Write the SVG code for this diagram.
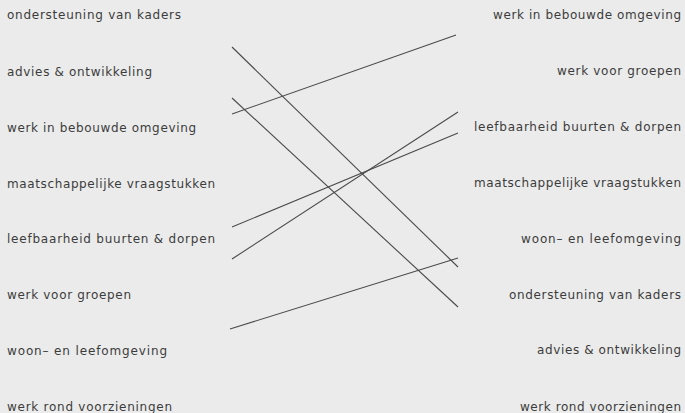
<svg xmlns="http://www.w3.org/2000/svg" width="685" height="413" viewBox="0 0 685 413">
<style>
.bg{fill:#ebebeb}
text{font-family:"DejaVu Sans","Liberation Sans",sans-serif;font-size:12px;fill:#3c3c3c}
.l{text-anchor:start}
.r{text-anchor:end}
#connectors line{stroke:#4a4a4a;stroke-width:1.1;fill:none}
</style>
<rect class="bg" x="0" y="0" width="685" height="413"/>
<g id="left">
<g id="l1"><text class="l" x="7" y="19" textLength="174" lengthAdjust="spacing">ondersteuning van kaders</text></g>
<g id="l2"><text class="l" x="7" y="76" textLength="145" lengthAdjust="spacing">advies &amp; ontwikkeling</text></g>
<g id="l3"><text class="l" x="7" y="132" textLength="189" lengthAdjust="spacing">werk in bebouwde omgeving</text></g>
<g id="l4"><text class="l" x="7" y="188" textLength="208" lengthAdjust="spacing">maatschappelijke vraagstukken</text></g>
<g id="l5"><text class="l" x="7" y="243" textLength="208" lengthAdjust="spacing">leefbaarheid buurten &amp; dorpen</text></g>
<g id="l6"><text class="l" x="7" y="299" textLength="124" lengthAdjust="spacing">werk voor groepen</text></g>
<g id="l7"><text class="l" x="7" y="355" textLength="160" lengthAdjust="spacing">woon– en leefomgeving</text></g>
<g id="l8"><text class="l" x="7" y="411" textLength="165" lengthAdjust="spacing">werk rond voorzieningen</text></g>
</g>
<g id="right">
<g id="r1"><text class="r" x="681" y="19" textLength="188" lengthAdjust="spacing">werk in bebouwde omgeving</text></g>
<g id="r2"><text class="r" x="681" y="75" textLength="124" lengthAdjust="spacing">werk voor groepen</text></g>
<g id="r3"><text class="r" x="681" y="131" textLength="207" lengthAdjust="spacing">leefbaarheid buurten &amp; dorpen</text></g>
<g id="r4"><text class="r" x="681" y="187" textLength="207" lengthAdjust="spacing">maatschappelijke vraagstukken</text></g>
<g id="r5"><text class="r" x="681" y="243" textLength="160" lengthAdjust="spacing">woon– en leefomgeving</text></g>
<g id="r6"><text class="r" x="681" y="299" textLength="172" lengthAdjust="spacing">ondersteuning van kaders</text></g>
<g id="r7"><text class="r" x="681" y="354" textLength="144" lengthAdjust="spacing">advies &amp; ontwikkeling</text></g>
<g id="r8"><text class="r" x="681" y="411" textLength="161" lengthAdjust="spacing">werk rond voorzieningen</text></g>
</g>
<g id="connectors">
<line x1="232" y1="47" x2="458" y2="267"/>
<line x1="232" y1="98" x2="458" y2="307"/>
<line x1="232" y1="114" x2="456" y2="35"/>
<line x1="232" y1="227" x2="458" y2="133"/>
<line x1="232" y1="259" x2="458" y2="112"/>
<line x1="230" y1="329" x2="458" y2="258"/>
</g>
</svg>
